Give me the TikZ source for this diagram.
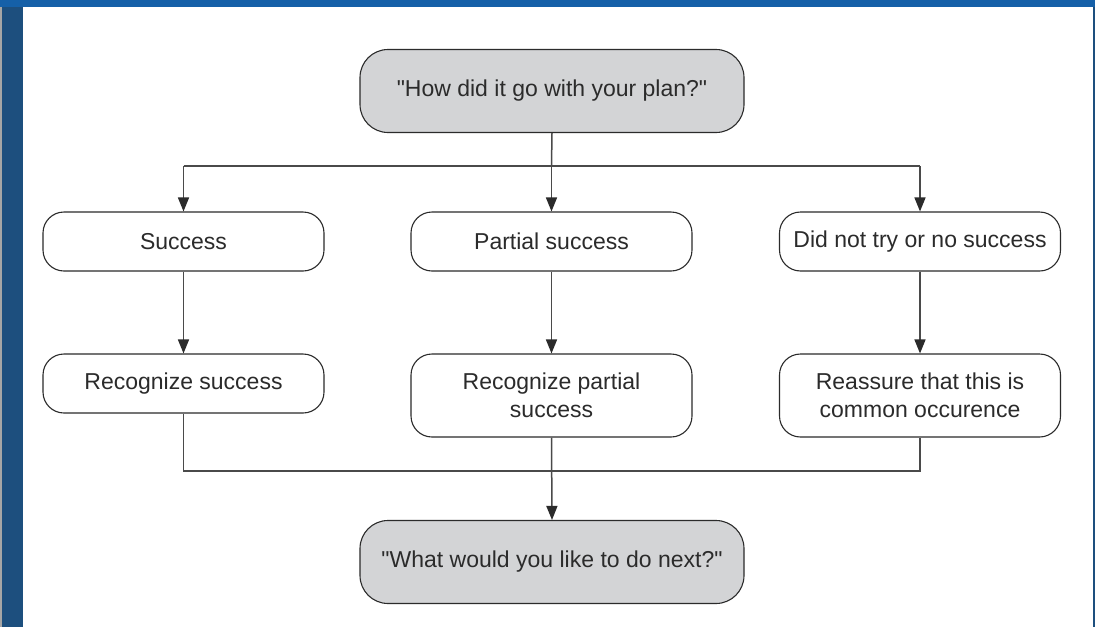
\documentclass[tikz,border=0pt]{standalone}
\usepackage{fontspec}
\setmainfont{Liberation Sans}
\usetikzlibrary{arrows.meta}
\definecolor{topbar}{HTML}{1560A8}
\definecolor{sidebar}{HTML}{1D4F7E}
\definecolor{boxgray}{HTML}{D3D4D6}
\definecolor{ink}{HTML}{2B2B2B}
\definecolor{wire}{HTML}{4A4A4A}
\begin{document}
\begin{tikzpicture}[x=1pt,y=-1pt,
  box/.style={draw=ink,line width=1.1pt,rounded corners=21pt,fill=white,
    minimum width=281pt,minimum height=59pt,align=center,inner sep=0pt,
    font=\fontsize{23}{28}\selectfont,text=ink},
  tallbox/.style={box,minimum height=83pt},
  askbox/.style={box,fill=boxgray,rounded corners=28pt,minimum width=384pt,minimum height=83pt},
  wireline/.style={draw=wire,line width=1.5pt},
  arrowline/.style={wireline,-{Triangle[length=14pt,width=11pt,fill=ink,color=ink]}}]
% page and frame
\useasboundingbox (0,0) rectangle (1095,627);
\fill[white] (0,0) rectangle (1095,627);
\fill[sidebar] (0,0) rectangle (23,627);
\fill[gray!70] (0,0) rectangle (2,627);
\fill[topbar] (0,0) rectangle (1095,7);
\fill[sidebar] (1093,7) rectangle (1095,627);
% nodes
\node[askbox] (ask) at (552,91) {\textquotedbl How did it go with your plan?\textquotedbl};
\node[box] (succ) at (183.5,241.5) {Success};
\node[box] (part) at (551.5,241.5) {Partial success};
\node[box] (none) at (920,241.5) {Did not try or no success};
\node[box] (rsucc) at (183.5,383.5) {Recognize success};
\node[tallbox] (rpart) at (551.5,395.5) {Recognize partial\\success};
\node[tallbox] (reas) at (920,395.5) {Reassure that this is\\common occurence};
\node[askbox] (next) at (552,562) {\textquotedbl What would you like to do next?\textquotedbl};
% branch out
\coordinate (split) at (551.5,166);
\draw[wireline] (ask.south) -- (split);
\draw[wireline] (succ.north |- split) -- (none.north |- split);
\draw[arrowline] (split) -- (part.north);
\draw[arrowline] (succ.north |- split) -- (succ.north);
\draw[arrowline] (none.north |- split) -- (none.north);
% down the columns
\draw[arrowline] (succ.south) -- (rsucc.north);
\draw[arrowline] (part.south) -- (rpart.north);
\draw[arrowline] (none.south) -- (reas.north);
% merge
\coordinate (merge) at (551.5,471);
\draw[wireline] (rsucc.south) -- (rsucc.south |- merge) -- (reas.south |- merge) -- (reas.south);
\draw[arrowline] (rpart.south) -- (next.north);
\end{tikzpicture}
\end{document}
